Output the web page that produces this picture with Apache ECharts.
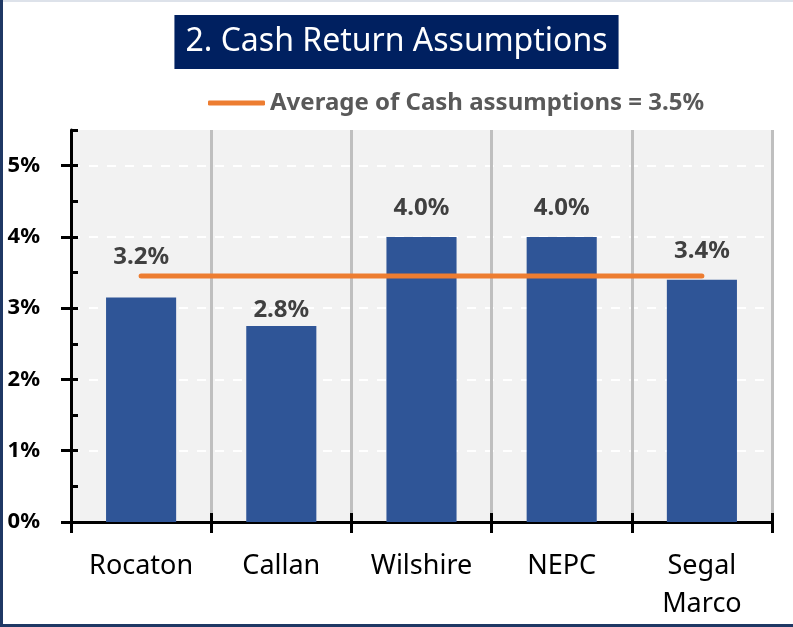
<!DOCTYPE html>
<html>
<head>
<meta charset="utf-8">
<script src="https://cdn.jsdelivr.net/npm/echarts@6/dist/echarts.min.js"></script>
<style>
  html, body { margin: 0; padding: 0; background: #fff; }
  #chart { width: 793px; height: 627px; }
</style>
</head>
<body>
<div id="chart"></div>
<script>
// data
const managers = ["Rocaton", "Callan", "Wilshire", "NEPC", "Segal\nMarco"];
const cashReturn = [3.15, 2.75, 4.0, 4.0, 3.4];
const barLabels = ["3.2%", "2.8%", "4.0%", "4.0%", "3.4%"];
const averageValue = 3.45;
const averageName = "Average of Cash assumptions = 3.5%";
const yTicks = [0, 1, 2, 3, 4, 5];

// labels were moved by hand in the original, so each gets its own gap
const labelGap = [28, 4, 17, 17, 17];

const font = "'Noto Sans', 'Open Sans', sans-serif";
const chart = echarts.init(document.getElementById("chart"));

// plot box in pixels
const plotLeft = 71, plotRight = 772, plotTop = 130, plotBottom = 522;
const yMax = 5.5;
const pxPerUnit = (plotBottom - plotTop) / yMax;

const barData = cashReturn.map((v, i) => ({
  value: v,
  label: { distance: labelGap[i], formatter: barLabels[i] },
}));

chart.setOption({
  animation: false,
  title: {
    text: "2. Cash Return Assumptions",
    left: "center",
    top: 15,
    backgroundColor: "#002060",
    padding: [5, 11, 5, 11],
    textStyle: {
      color: "#fff",
      fontFamily: font,
      fontWeight: "normal",
      fontSize: 32,
      lineHeight: 44,
    },
  },
  legend: {
    data: [averageName],
    left: 203,
    top: 86,
    icon: "roundRect",
    itemWidth: 57,
    itemHeight: 5,
    itemGap: 5,
    textStyle: {
      color: "#595959",
      fontFamily: font,
      fontWeight: "bold",
      fontSize: 24,
    },
  },
  grid: [
    {
      left: plotLeft,
      right: 793 - plotRight,
      top: plotTop,
      bottom: 627 - plotBottom,
      show: true,
      backgroundColor: "#F2F2F2",
      borderWidth: 0,
      z: 0,
    },
    {
      // 0..5% part only, used for the outer ticks, labels and dashed lines
      left: plotLeft,
      right: 793 - plotRight,
      top: plotBottom - 5 * pxPerUnit,
      bottom: 627 - plotBottom,
    },
  ],
  xAxis: [
    {
      type: "category",
      gridIndex: 0,
      position: "bottom",
      data: managers,
      z: 1,
      axisLine: { lineStyle: { color: "#000", width: 3 } },
      axisTick: { show: true, length: 11, lineStyle: { color: "#000", width: 3 } },
      axisLabel: {
        color: "#000",
        fontFamily: font,
        fontSize: 27,
        lineHeight: 38,
        margin: 25,
        interval: 0,
        verticalAlign: "top",
      },
      splitLine: { show: true, lineStyle: { color: "#BFBFBF", width: 3 } },
    },
    {
      type: "category",
      gridIndex: 0,
      position: "bottom",
      data: managers,
      z: 4,
      axisLine: { show: false },
      axisTick: { show: true, inside: true, length: 9, lineStyle: { color: "#000", width: 3 } },
      axisLabel: { show: false },
      splitLine: { show: false },
    },
    { type: "category", gridIndex: 1, data: managers, show: false },
  ],
  yAxis: [
    {
      type: "value",
      gridIndex: 0,
      min: 0,
      max: yMax,
      interval: 0.5,
      z: 5,
      axisLine: { show: true, lineStyle: { color: "#000", width: 3 } },
      axisTick: { show: true, inside: true, length: 7, lineStyle: { color: "#000", width: 3 } },
      axisLabel: { show: false },
      splitLine: { show: false },
    },
    {
      type: "value",
      gridIndex: 1,
      min: yTicks[0],
      max: yTicks[yTicks.length - 1],
      interval: 1,
      z: 1,
      axisLine: { show: false },
      axisTick: { show: true, length: 10, lineStyle: { color: "#000", width: 3 } },
      axisLabel: {
        color: "#000",
        fontFamily: font,
        fontWeight: "bold",
        fontSize: 22,
        margin: 31,
        formatter: (v) => v + "%",
      },
      splitLine: { show: true, lineStyle: { color: "#FFFFFF", width: 2, type: [9, 9] } },
    },
  ],
  series: [
    {
      type: "bar",
      xAxisIndex: 0,
      yAxisIndex: 0,
      data: barData,
      barWidth: "50%",
      itemStyle: { color: "#2F5597" },
      label: {
        show: true,
        position: "top",
        color: "#404040",
        fontFamily: font,
        fontWeight: "bold",
        fontSize: 24,
      },
      z: 2,
    },
    {
      name: averageName,
      type: "line",
      xAxisIndex: 0,
      yAxisIndex: 0,
      data: managers.map(() => averageValue),
      symbol: "none",
      color: "#ED7D31",
      lineStyle: { color: "#ED7D31", width: 5, cap: "round" },
      z: 3,
    },
  ],
  graphic: [
    { type: "rect", shape: { x: 0, y: 0, width: 793, height: 2 }, style: { fill: "#DDE2EA" } },
    { type: "rect", shape: { x: 0, y: 0, width: 3, height: 627 }, style: { fill: "#1F3864" } },
    { type: "rect", shape: { x: 0, y: 624, width: 793, height: 3 }, style: { fill: "#1F3864" } },
  ],
});
</script>
</body>
</html>
